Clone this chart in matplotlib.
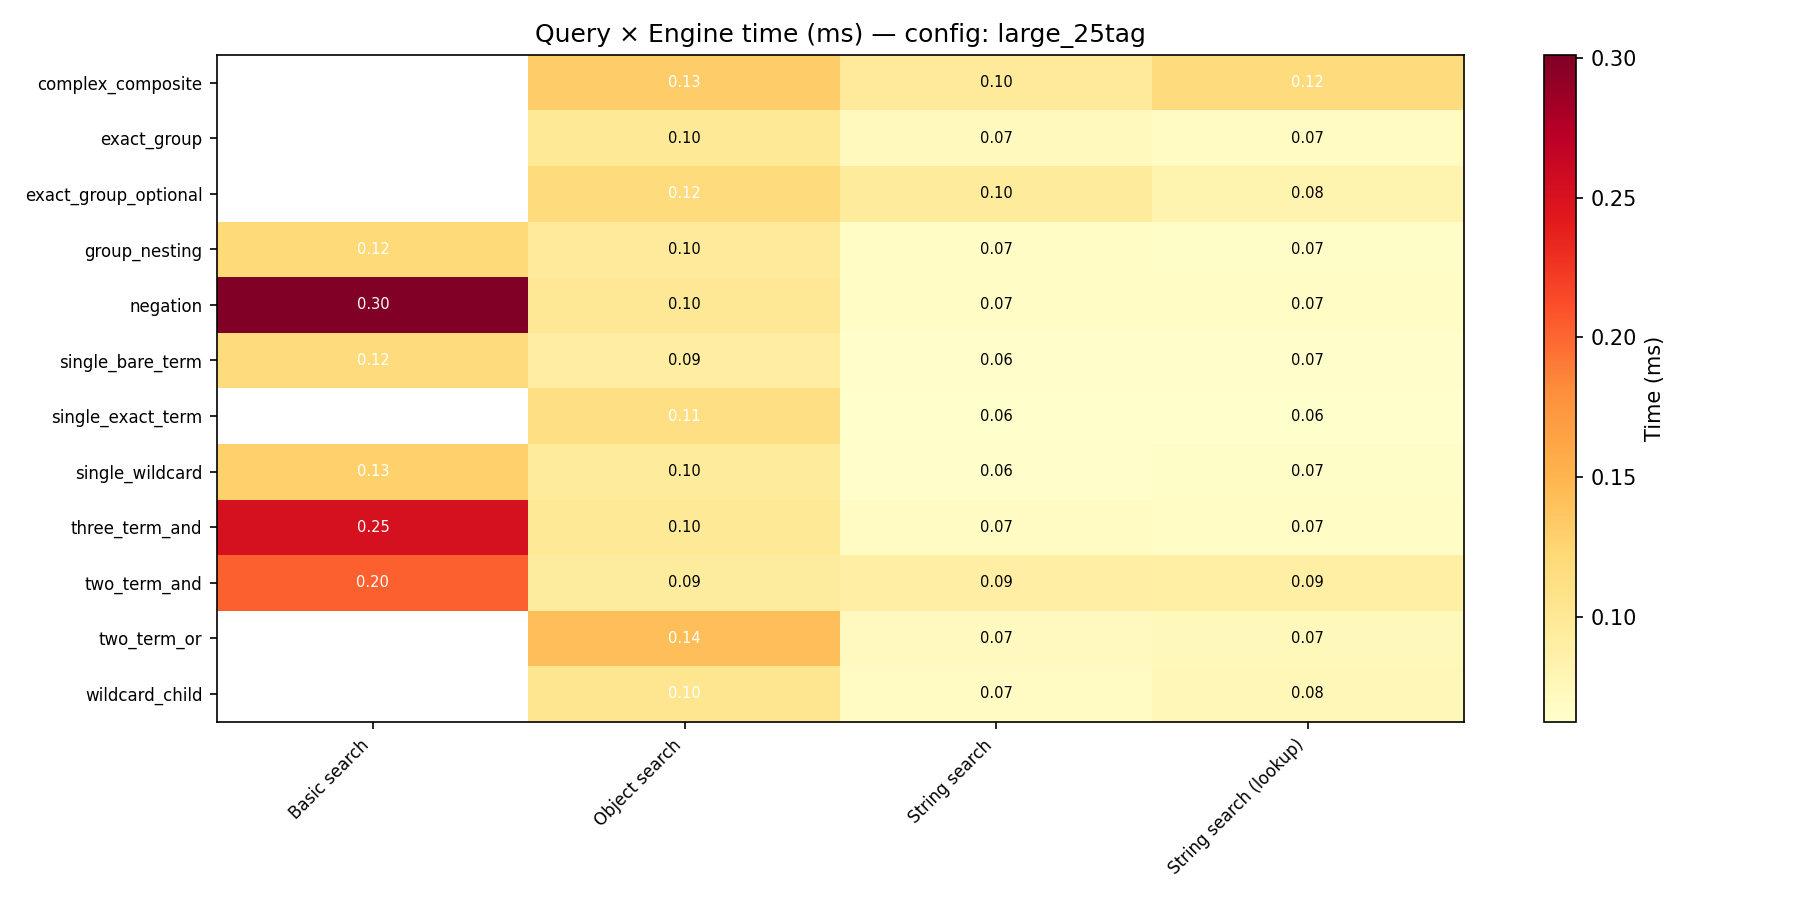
import numpy as np
import matplotlib
matplotlib.use('Agg')
import matplotlib.pyplot as plt

queries = ['complex_composite', 'exact_group', 'exact_group_optional', 'group_nesting',
           'negation', 'single_bare_term', 'single_exact_term', 'single_wildcard',
           'three_term_and', 'two_term_and', 'two_term_or', 'wildcard_child']
engines = ['Basic search', 'Object search', 'String search', 'String search (lookup)']

# time in ms, nan = engine did not run the query
basic = [np.nan, np.nan, np.nan, 0.121, 0.301, 0.118, np.nan, 0.128, 0.251, 0.203, np.nan, np.nan]
obj = [0.131, 0.098, 0.117, 0.097, 0.099, 0.092, 0.112, 0.096, 0.098, 0.094, 0.142, 0.104]
string = [0.097, 0.072, 0.096, 0.068, 0.068, 0.064, 0.063, 0.064, 0.070, 0.090, 0.071, 0.069]
lookup = [0.117, 0.069, 0.082, 0.066, 0.067, 0.065, 0.0626, 0.066, 0.068, 0.089, 0.074, 0.076]

data = np.array([basic, obj, string, lookup]).T
masked = np.ma.masked_invalid(data)

fig = plt.figure(figsize=(12, 6), dpi=150)
ax = fig.add_axes([0.1206, 0.1983, 0.6925, 0.7406])
cax = fig.add_axes([0.8578, 0.1983, 0.0178, 0.7406])

im = ax.imshow(masked, cmap='YlOrRd', aspect='auto')
cbar = fig.colorbar(im, cax=cax)
cbar.set_label('Time (ms)')

ax.set_xticks(range(len(engines)))
ax.set_xticklabels(engines, rotation=45, ha='right', fontsize=8)
ax.set_yticks(range(len(queries)))
ax.set_yticklabels(queries, fontsize=8)
ax.set_title('Query × Engine time (ms) — config: large_25tag')

# annotate cells, white text above the mean
thresh = np.nanmean(data)
for i in range(data.shape[0]):
    for j in range(data.shape[1]):
        v = data[i, j]
        if np.isnan(v):
            continue
        ax.text(j, i, f'{v:.2f}', ha='center', va='center', fontsize=7,
                color='white' if v > thresh else 'black')

fig.savefig('out.png', dpi=150)
